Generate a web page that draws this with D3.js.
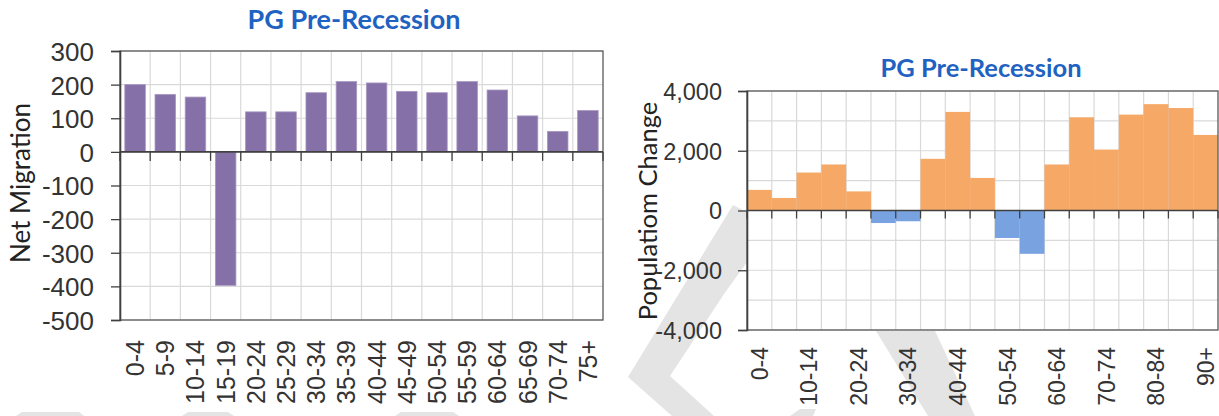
<!DOCTYPE html>
<html><head><meta charset="utf-8">
<script src="https://cdn.jsdelivr.net/npm/d3@7"></script>
<style>
html,body{margin:0;padding:0;background:#fff;}
svg{display:block;font-family:Lato,"Open Sans",sans-serif;}
</style></head>
<body>
<svg id="c" width="1219" height="416"></svg>
<script>
// ---------- DATA ----------
const leftTitle = "PG Pre-Recession";
const leftYLabel = "Net Migration";
const leftCategories = ["0-4","5-9","10-14","15-19","20-24","25-29","30-34","35-39","40-44","45-49","50-54","55-59","60-64","65-69","70-74","75+"];
const leftValues = [200,171,163,-397,119,119,176,209,205,180,176,209,184,107,61,123];
const leftYTicks = [300,200,100,0,-100,-200,-300,-400,-500];

const rightTitle = "PG Pre-Recession";
const rightYLabel = "Populatiom Change";
const rightCategories = ["0-4","5-9","10-14","15-19","20-24","25-29","30-34","35-39","40-44","45-49","50-54","55-59","60-64","65-69","70-74","75-79","80-84","85-89","90+"];
const rightValues = [690,420,1270,1540,640,-420,-360,1730,3300,1090,-920,-1450,1540,3120,2040,3210,3560,3430,2530];
const rightYTicks = [4000,2000,0,-2000,-4000];
const rightYGrid = [4000,3000,2000,1000,0,-1000,-2000,-3000,-4000];
const rightXTickLabels = ["0-4","10-14","20-24","30-34","40-44","50-54","60-64","70-74","80-84","90+"];

// ---------- STYLE ----------
const svg = d3.select("#c");
const axisColor = "#404040", gridColor = "#d9d9d9", textColor = "#333333";
const titleColor = "#1f62c2";
const purple = "#8670a8", orange = "#f6a866", blue = "#79a3e0";
const wm = "#e4e4e4";

// watermark (faint background shapes)
const wmShapes = [
  [[733,205],[747,212],[747,262],[724,294],[670,376],[714,416],[672,416],[628,377]],
  [[876,331],[935,331],[975,416],[928,416]],
  [[790,416],[800,409],[816,409],[813,416]],
  [[16,416],[22,412],[79,412],[84,416]],
  [[182,416],[188,412],[228,412],[234,416]],
  [[395,416],[401,412],[453,412],[459,416]]
];
svg.append("g").selectAll("path").data(wmShapes).join("path")
  .attr("d", d => "M" + d.map(p => p.join(",")).join("L") + "Z")
  .attr("fill", wm);

const hyph = d => (d < 0 ? "-" : "") + d3.format(",")(Math.abs(d));
const plain = d => (d < 0 ? "-" : "") + Math.abs(d);

function drawChart(o) {
  const g = svg.append("g");
  const x = d3.scaleBand().domain(o.cats).range([o.x0, o.x1])
    .paddingInner(o.pad).paddingOuter(o.pad / 2);
  const y = d3.scaleLinear().domain(o.domain).range([o.y1, o.y0]);
  const step = x.step();
  const bounds = d3.range(o.cats.length + 1).map(i => o.x0 + i * step);

  // plot background
  g.append("rect").attr("x", o.x0).attr("y", o.y0)
    .attr("width", o.x1 - o.x0).attr("height", o.y1 - o.y0).attr("fill", "#fff");

  // grid
  g.append("g").selectAll("line").data(o.grid).join("line")
    .attr("x1", o.x0).attr("x2", o.x1)
    .attr("y1", d => y(d)).attr("y2", d => y(d))
    .attr("stroke", gridColor).attr("stroke-width", 1.2);
  g.append("g").selectAll("line").data(bounds.slice(1, -1)).join("line")
    .attr("x1", d => d).attr("x2", d => d)
    .attr("y1", o.y0).attr("y2", o.y1)
    .attr("stroke", gridColor).attr("stroke-width", 1.2);

  // bars
  g.append("g").selectAll("rect").data(o.vals).join("rect")
    .attr("x", (d, i) => x(o.cats[i]))
    .attr("width", x.bandwidth())
    .attr("y", d => y(Math.max(0, d)))
    .attr("height", d => Math.abs(y(d) - y(0)))
    .attr("fill", d => d >= 0 ? o.pos : o.neg)
    .attr("stroke", o.barStroke || "none").attr("stroke-width", 0.8);

  // plot border
  g.append("rect").attr("x", o.x0).attr("y", o.y0)
    .attr("width", o.x1 - o.x0).attr("height", o.y1 - o.y0)
    .attr("fill", "none").attr("stroke", "#595959").attr("stroke-width", 1.3);

  // y axis
  const ya = d3.axisLeft(y).tickValues(o.yticks).tickFormat(o.fmt)
    .tickSize(o.ytick).tickPadding(o.ypad);
  const yg = g.append("g").attr("transform", `translate(${o.x0},0)`).call(ya);
  yg.select(".domain").attr("stroke", axisColor).attr("stroke-width", 1.6);
  yg.selectAll(".tick line").attr("stroke", axisColor).attr("stroke-width", 1.3);
  yg.selectAll("text").attr("fill", textColor).style("font-size", o.tickFont + "px")
    .attr("dy", "0.36em");

  // zero line and category ticks
  g.append("line").attr("x1", o.x0).attr("x2", o.x1)
    .attr("y1", y(0)).attr("y2", y(0))
    .attr("stroke", axisColor).attr("stroke-width", 1.6);
  g.append("g").selectAll("line").data(bounds).join("line")
    .attr("x1", d => d).attr("x2", d => d)
    .attr("y1", y(0)).attr("y2", y(0) + o.xtick)
    .attr("stroke", axisColor).attr("stroke-width", 1.3);

  // x labels
  const xa = d3.axisBottom(x).tickValues(o.xlabels).tickSize(0).tickPadding(0);
  const xg = g.append("g").attr("transform", `translate(0,${o.y1})`).call(xa);
  xg.select(".domain").remove();
  xg.selectAll("text").attr("fill", textColor).style("font-size", o.xFont + "px")
    .attr("text-anchor", "end")
    .attr("transform", `translate(0,${o.xoff}) rotate(-90)`)
    .attr("x", 0).attr("y", 0).attr("dy", "0.36em");

  // titles
  g.append("text").attr("x", o.tx).attr("y", o.ty).attr("text-anchor", "middle")
    .attr("fill", titleColor).style("font-weight", "bold").style("font-size", o.titleFont + "px")
    .text(o.title);
  g.append("text").attr("transform", `translate(${o.lx},${o.ly}) rotate(-90)`)
    .attr("text-anchor", "middle").attr("fill", "#222")
    .style("font-size", o.labelFont + "px").text(o.ylabel);
}

drawChart({
  cats: leftCategories, vals: leftValues, x0: 120, x1: 603, y0: 51, y1: 320,
  pad: 0.32, domain: [-500, 300], grid: leftYTicks, yticks: leftYTicks, fmt: plain,
  ytick: 9, ypad: 17, tickFont: 26, xtick: 9, xlabels: leftCategories, xFont: 25, xoff: 20,
  pos: purple, neg: purple, barStroke: "#a898c2",
  title: leftTitle, tx: 354, ty: 29, titleFont: 27,
  ylabel: leftYLabel, lx: 30, ly: 183, labelFont: 26
});

drawChart({
  cats: rightCategories, vals: rightValues, x0: 747, x1: 1218, y0: 91, y1: 330,
  pad: 0, domain: [-4000, 4000], grid: rightYGrid, yticks: rightYTicks, fmt: hyph,
  ytick: 9, ypad: 16, tickFont: 23.5, xtick: 8, xlabels: rightXTickLabels, xFont: 23, xoff: 17,
  pos: orange, neg: blue,
  title: rightTitle, tx: 981, ty: 77, titleFont: 25.5,
  ylabel: rightYLabel, lx: 657, ly: 211, labelFont: 25.5
});
</script>
</body></html>
